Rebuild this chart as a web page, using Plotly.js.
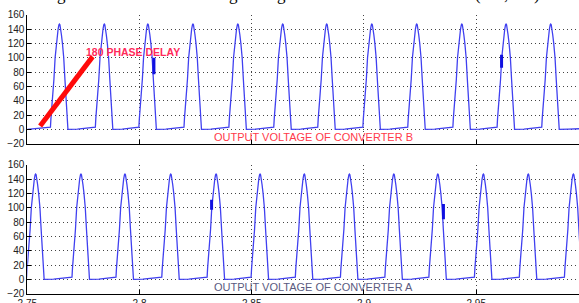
<!DOCTYPE html>
<html>
<head>
<meta charset="utf-8">
<script src="https://cdn.plot.ly/plotly-3.0.1.min.js"></script>
<style>html,body{margin:0;padding:0;background:#fff;overflow:hidden}#chart{width:579px;height:303px}</style>
</head>
<body>
<div id="chart"></div>
<script>
// ---- data ----
// pulse shape (time offset from peak in s, voltage)
const pulseDt = [-0.0042, -0.0040, -0.00379, -0.00334, -0.00299, -0.00245, -0.00192, -0.00134, -0.00089, -0.00058, -0.00022, 0, 0.00022, 0.00058, 0.00089, 0.00134, 0.00192, 0.00245, 0.00299, 0.00334, 0.00370, 0.00379, 0.0080];
const pulseV  = [2.5, 3, 15, 30, 41, 70, 100, 120, 132, 140, 146, 147, 146, 140, 132, 120, 100, 70, 41, 25, 6, 0, 0.3];
// peak times of each pulse
const peaksB = [2.7643, 2.7843, 2.8037, 2.8238, 2.8438, 2.8638, 2.8834, 2.9035, 2.9235, 2.9436, 2.9633, 2.9832];
const peaksA = [2.7537, 2.7739, 2.7935, 2.8139, 2.8341, 2.8537, 2.8734, 2.8935, 2.9133, 2.9329, 2.9532, 2.9732, 2.9933];
// short thick glitch segments (time, top value, bottom value)
const glitchB_t = [2.8064, 2.9613];
const glitchB_hi = [100, 104];
const glitchB_lo = [77, 86];
const glitchA_t = [2.8321, 2.9354];
const glitchA_hi = [111, 105];
const glitchA_lo = [97, 84];
// red "phase delay" marker line
const delayX = [2.7557, 2.7791];
const delayY = [4.6, 101.5];
// axes
const yTicks = [-20, 0, 20, 40, 60, 80, 100, 120, 140, 160];
const xTicks = [2.75, 2.8, 2.85, 2.9, 2.95];
const xTickText = ['2.75', '2.8', '2.85', '2.9', '2.95'];

function build(peaks, startPt, endPt) {
  const x = [], y = [];
  if (startPt) { x.push(startPt[0]); y.push(startPt[1]); }
  peaks.forEach(p => {
    pulseDt.forEach((d, i) => { x.push(+(p + d).toFixed(5)); y.push(pulseV[i]); });
  });
  if (endPt) { x.push(endPt[0]); y.push(endPt[1]); }
  return {x, y};
}
function segs(t, hi, lo) {
  const x = [], y = [];
  t.forEach((v, i) => { x.push(v, v, null); y.push(hi[i], lo[i], null); });
  return {x, y};
}

const B = build(peaksB, [2.75, 0], [2.9965, 1]);
const A = build(peaksA, null, null);
const gB = segs(glitchB_t, glitchB_hi, glitchB_lo);
const gA = segs(glitchA_t, glitchA_hi, glitchA_lo);
const blue = '#4040f0';

const traces = [
  {x: B.x, y: B.y, xaxis: 'x', yaxis: 'y', mode: 'lines', line: {color: blue, width: 1.3}, hoverinfo: 'skip'},
  {x: gB.x, y: gB.y, xaxis: 'x', yaxis: 'y', mode: 'lines', line: {color: '#1010e0', width: 3}, hoverinfo: 'skip'},
  {x: delayX, y: delayY, xaxis: 'x', yaxis: 'y', mode: 'lines', line: {color: '#ff0a0a', width: 5}, hoverinfo: 'skip'},
  {x: A.x, y: A.y, xaxis: 'x2', yaxis: 'y2', mode: 'lines', line: {color: blue, width: 1.3}, hoverinfo: 'skip'},
  {x: gA.x, y: gA.y, xaxis: 'x2', yaxis: 'y2', mode: 'lines', line: {color: '#1010e0', width: 3}, hoverinfo: 'skip'}
];

const xRange = [2.75, 2.9958];
const axisFont = {family: 'Liberation Sans, Arial, sans-serif', size: 10, color: '#222'};
const gridDash = '1px,3px';
function xax(anchor, labels) {
  return {domain: [0.0472, 1], range: xRange, anchor: anchor, tickvals: xTicks, ticktext: xTickText,
    showticklabels: labels, ticks: 'inside', ticklen: 4, tickcolor: '#000',
    showgrid: true, gridcolor: '#444', griddash: gridDash, gridwidth: 1,
    showline: true, linecolor: '#000', linewidth: 1, zeroline: false, tickfont: axisFont, fixedrange: true};
}
function yax(anchor, domain) {
  return {domain: domain, range: [-20, 160], anchor: anchor, tickvals: yTicks,
    ticks: 'inside', ticklen: 4, tickcolor: '#000',
    showgrid: true, gridcolor: '#444', griddash: gridDash, gridwidth: 1,
    showline: true, linecolor: '#000', linewidth: 1, zeroline: false, tickfont: axisFont, fixedrange: true};
}

const capFont = {family: 'Liberation Serif, Times New Roman, serif', size: 17, color: '#000'};
function cap(txt, px) {
  return {text: txt, xref: 'paper', yref: 'paper', x: px / 579, y: 1, xanchor: 'center', yanchor: 'bottom',
    yshift: -6, showarrow: false, font: capFont};
}

const layout = {
  width: 579, height: 303,
  margin: {l: 0, r: 0, t: 0, b: 0},
  paper_bgcolor: '#fff', plot_bgcolor: '#fff',
  showlegend: false,
  xaxis: xax('y', false),
  yaxis: yax('x', [0.5257, 0.9515]),
  xaxis2: xax('y2', true),
  yaxis2: yax('x2', [0.0307, 0.4564]),
  annotations: [
    {text: '<b>180 PHASE DELAY</b>', xref: 'paper', yref: 'y', x: 84 / 579, y: 108, xanchor: 'left', yanchor: 'middle',
      showarrow: false, font: {family: 'Liberation Sans, Arial, sans-serif', size: 10.5, color: '#ff2a5a'}},
    {text: 'OUTPUT VOLTAGE OF CONVERTER B', xref: 'paper', yref: 'y', x: 313 / 579, y: -11, xanchor: 'center', yanchor: 'middle',
      showarrow: false, font: {family: 'Liberation Sans, Arial, sans-serif', size: 11, color: '#ff3a4a'}},
    {text: 'OUTPUT VOLTAGE OF CONVERTER A', xref: 'paper', yref: 'y2', x: 313 / 579, y: -11, xanchor: 'center', yanchor: 'middle',
      showarrow: false, font: {family: 'Liberation Sans, Arial, sans-serif', size: 11, color: '#5a5a80'}},
    cap('g', 61), cap('g', 233), cap('g', 281), cap('(', 478), cap(',', 506), cap(')', 537)
  ]
};

Plotly.newPlot('chart', traces, layout, {displayModeBar: false, staticPlot: true});
</script>
</body>
</html>
